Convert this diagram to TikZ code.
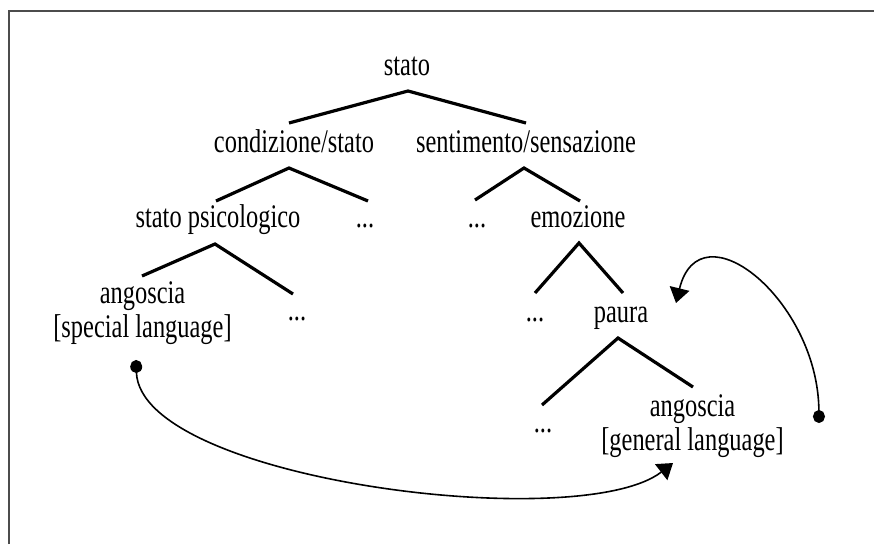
\documentclass[tikz,border=0pt]{standalone}
\usepackage{fontspec}
\setmainfont[FakeStretch=0.74]{Liberation Serif}
\usetikzlibrary{arrows.meta}
\begin{document}
\begin{tikzpicture}[x=1pt,y=-1pt,
  lbl/.style={inner sep=0pt, font=\fontsize{33}{34}\selectfont, text height=22pt, text depth=7pt},
  lbl2/.style={inner sep=0pt, font=\fontsize{33}{34}\selectfont, align=center},
  wedge/.style={line width=3.2pt, line join=miter},
  link/.style={line width=1.6pt},
  framestyle/.style={draw=black!70, line width=2pt}]
\useasboundingbox (0,0) rectangle (874,544);
\draw[framestyle] (8.5,544) -- (8.5,10.5) -- (874,10.5);

% labels
\node[lbl] (stato) at (407,68) {stato};
\node[lbl] (cond) at (294,145) {condizione/stato};
\node[lbl] (sent) at (526,145) {sentimento/sensazione};
\node[lbl] (psic) at (218,220) {stato psicologico};
\node[lbl] (d1) at (365,220) {...};
\node[lbl] (d2) at (477,220) {...};
\node[lbl] (emoz) at (578,220) {emozione};
\node[lbl2] (angS) at (142.5,313) {angoscia\\{}[special language]};
\node[lbl] (d3) at (297,313) {...};
\node[lbl] (d4) at (535,314) {...};
\node[lbl] (paura) at (621,315) {paura};
\node[lbl] (d5) at (543,425) {...};
\node[lbl2] (angG) at (692.5,426) {angoscia\\{}[general language]};

% tree wedges
\coordinate (w1l) at (289,123); \coordinate (w1t) at (408,91); \coordinate (w1r) at (526,123);
\coordinate (w2l) at (216,201); \coordinate (w2t) at (289,168); \coordinate (w2r) at (368,201);
\coordinate (w3l) at (475,200); \coordinate (w3t) at (524,168); \coordinate (w3r) at (580,201);
\coordinate (w4l) at (142,276); \coordinate (w4t) at (215,244); \coordinate (w4r) at (293,294);
\coordinate (w5l) at (535,293); \coordinate (w5t) at (579,243); \coordinate (w5r) at (623,293);
\coordinate (w6l) at (542,405); \coordinate (w6t) at (618,338); \coordinate (w6r) at (693,387);
\draw[wedge] (w1l) -- (w1t) -- (w1r);
\draw[wedge] (w2l) -- (w2t) -- (w2r);
\draw[wedge] (w3l) -- (w3t) -- (w3r);
\draw[wedge] (w4l) -- (w4t) -- (w4r);
\draw[wedge] (w5l) -- (w5t) -- (w5r);
\draw[wedge] (w6l) -- (w6t) -- (w6r);

% links
\coordinate (dotA) at (136,360);
\coordinate (tipA) at (673,463);
\coordinate (dotB) at (819,423);
\coordinate (tipB) at (676,303);
\draw[link, {Circle[length=13pt,width=12pt]}-{Triangle[length=15pt,width=20pt]}]
  (dotA) .. controls (140,480) and (580,535) .. (tipA);
\draw[link, {Circle[length=13pt,width=12pt]}-{Triangle[length=15pt,width=20pt]}]
  (dotB) .. controls (818,300) and (700,205) .. (tipB);
\end{tikzpicture}
\end{document}
